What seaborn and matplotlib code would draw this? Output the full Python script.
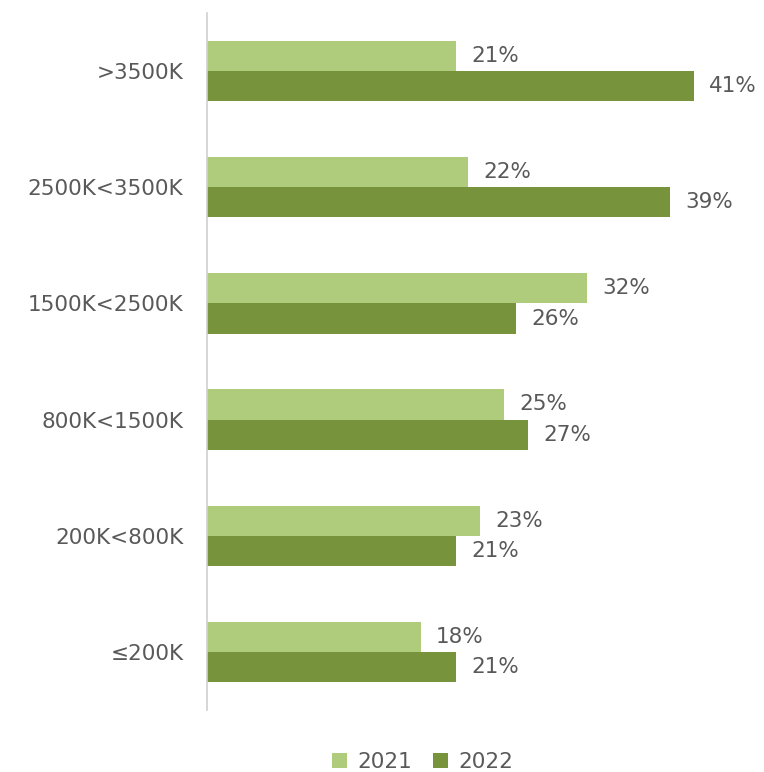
import matplotlib
matplotlib.use("Agg")
import matplotlib.pyplot as plt
import seaborn as sns
import pandas as pd

categories = [">3500K", "2500K<3500K", "1500K<2500K", "800K<1500K", "200K<800K", "\u2264200K"]
years = ["2021", "2022"]
values_2021 = [21, 22, 32, 25, 23, 18]
values_2022 = [41, 39, 26, 27, 21, 21]
colors = ["#AFCB7C", "#77933C"]

df = pd.DataFrame({
    "category": categories * 2,
    "year": ["2021"] * len(categories) + ["2022"] * len(categories),
    "value": values_2021 + values_2022,
})

sns.set_theme(style="white")
plt.rcParams["font.family"] = ["DejaVu Sans"]
text_color = "#595959"
fs = 15.5

fig = plt.figure(figsize=(7.64, 7.72), dpi=100)
W, H = 764, 772
left, right, top, bottom = 207, 753.5, 13, 710
ax = fig.add_axes([left / W, 1 - bottom / H, (right - left) / W, (bottom - top) / H])

sns.barplot(data=df, y="category", x="value", hue="year", order=categories,
            hue_order=years, palette=colors, orient="h", width=0.52,
            saturation=1, linewidth=0, ax=ax, legend=True)

ax.set_xlim(0, 46)
ax.set_ylim(5.5, -0.5)
ax.set_xlabel("")
ax.set_ylabel("")
ax.set_xticks([])
for s in ["top", "right", "bottom"]:
    ax.spines[s].set_visible(False)
ax.spines["left"].set_color("#D0D0D0")
ax.spines["left"].set_linewidth(1.2)
ax.tick_params(axis="y", length=0, pad=17, labelsize=fs, labelcolor=text_color)

for container in ax.containers:
    ax.bar_label(container, labels=[f"{int(v)}%" for v in container.datavalues],
                 padding=11, fontsize=fs, color=text_color)

handles, labels = ax.get_legend_handles_labels()
ax.get_legend().remove()
fig.legend(handles, labels, loc="lower center", bbox_to_anchor=(0.553, -0.025),
           ncol=2, frameon=False, fontsize=fs, labelcolor=text_color,
           handlelength=0.7, handleheight=0.7, handletextpad=0.45, columnspacing=1.0)

fig.savefig("out.png", dpi=100)
